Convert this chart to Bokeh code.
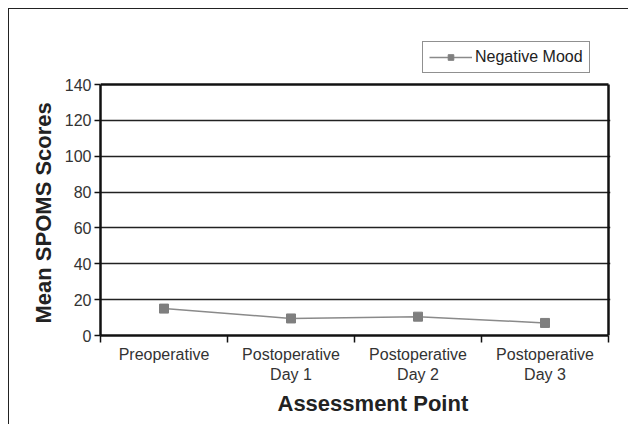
from bokeh.plotting import figure
from bokeh.models import FixedTicker, Legend, LegendItem, Title
from bokeh.embed import file_html
from bokeh.resources import INLINE

categories = ["Preoperative", "Postoperative\nDay 1", "Postoperative\nDay 2", "Postoperative\nDay 3"]
negative_mood = [15, 9.5, 10.5, 7]
y_ticks = [0, 20, 40, 60, 80, 100, 120, 140]
x_title = "Assessment Point"
y_title = "Mean SPOMS Scores"
series_name = "Negative Mood"

n = len(categories)
y_max = y_ticks[-1]
x_pos = [i + 0.5 for i in range(n)]

# frame is extended a little to the right and upward so the legend
# (which sits above the plot box) is not clipped; the visible box is drawn explicitly
x_end = n * 510 / 508
y_end = y_max * 295 / 251

p = figure(width=620, height=416, output_backend="svg", toolbar_location=None,
           x_range=(0, x_end), y_range=(0, y_end),
           min_border_left=91, min_border_right=19, min_border_top=31, min_border_bottom=90)
p.styles = {"margin-left": "8px", "margin-top": "8px",
            "border-top": "1px solid #222", "border-left": "1px solid #222"}

p.outline_line_color = None

# grid
p.xgrid.grid_line_color = None
p.ygrid.ticker = FixedTicker(ticks=y_ticks[:-1])
p.ygrid.grid_line_color = "#222"
p.ygrid.grid_line_width = 1.5

# plot box top and right edges
p.line([0, n], [y_max, y_max], line_color="#111", line_width=2.5)
p.line([n, n], [0, y_max], line_color="#111", line_width=2.5)

# x axis
p.xaxis.bounds = (0, n)
p.xaxis.ticker = FixedTicker(ticks=x_pos, minor_ticks=list(range(n + 1)))
p.xaxis.major_label_overrides = {x: c for x, c in zip(x_pos, categories)}
p.xaxis.major_tick_line_color = None
p.xaxis.minor_tick_line_color = "#111"
p.xaxis.minor_tick_line_width = 1.5
p.xaxis.minor_tick_in = 0
p.xaxis.minor_tick_out = 7
p.xaxis.axis_line_color = "#111"
p.xaxis.axis_line_width = 2.5
p.xaxis.major_label_standoff = 3
p.xaxis.major_label_text_font = "Liberation Sans"
p.xaxis.major_label_text_font_size = "16px"
p.xaxis.major_label_text_color = "#333"

# y axis
p.yaxis.bounds = (0, y_max)
p.yaxis.ticker = FixedTicker(ticks=y_ticks)
p.yaxis.minor_tick_line_color = None
p.yaxis.major_tick_in = 0
p.yaxis.major_tick_out = 6
p.yaxis.major_tick_line_color = "#111"
p.yaxis.major_tick_line_width = 1.5
p.yaxis.axis_line_color = "#111"
p.yaxis.axis_line_width = 2.5
p.yaxis.major_label_standoff = 3
p.yaxis.major_label_text_font = "Liberation Sans"
p.yaxis.major_label_text_font_size = "16px"
p.yaxis.major_label_text_color = "#333"

# axis titles (as titles so they can be placed relative to the drawn box)
xt = Title(text=x_title, align="left", offset=177, standoff=6,
           text_font="Liberation Sans", text_font_style="bold",
           text_font_size="22px", text_color="#222")
p.add_layout(xt, "below")
yt = Title(text=y_title, align="left", offset=12, standoff=12,
           text_font="Liberation Sans", text_font_style="bold",
           text_font_size="22px", text_color="#222")
p.add_layout(yt, "left")

ln = p.line(x_pos, negative_mood, line_color="#8a8a8a", line_width=1.5)
mk = p.scatter(x_pos, negative_mood, marker="square", size=9, fill_color="#7f7f7f", line_color="#7f7f7f")

legend = Legend(items=[LegendItem(label=series_name, renderers=[ln, mk])],
                location=(322, 262), orientation="vertical",
                border_line_color="#222", border_line_width=1.5,
                label_text_font="Liberation Sans", label_text_font_size="16px",
                label_text_color="#222", glyph_width=43, glyph_height=14,
                padding=6, margin=0, spacing=0, label_standoff=3)
p.add_layout(legend, "center")

open("out.html", "w").write(file_html(p, INLINE))
